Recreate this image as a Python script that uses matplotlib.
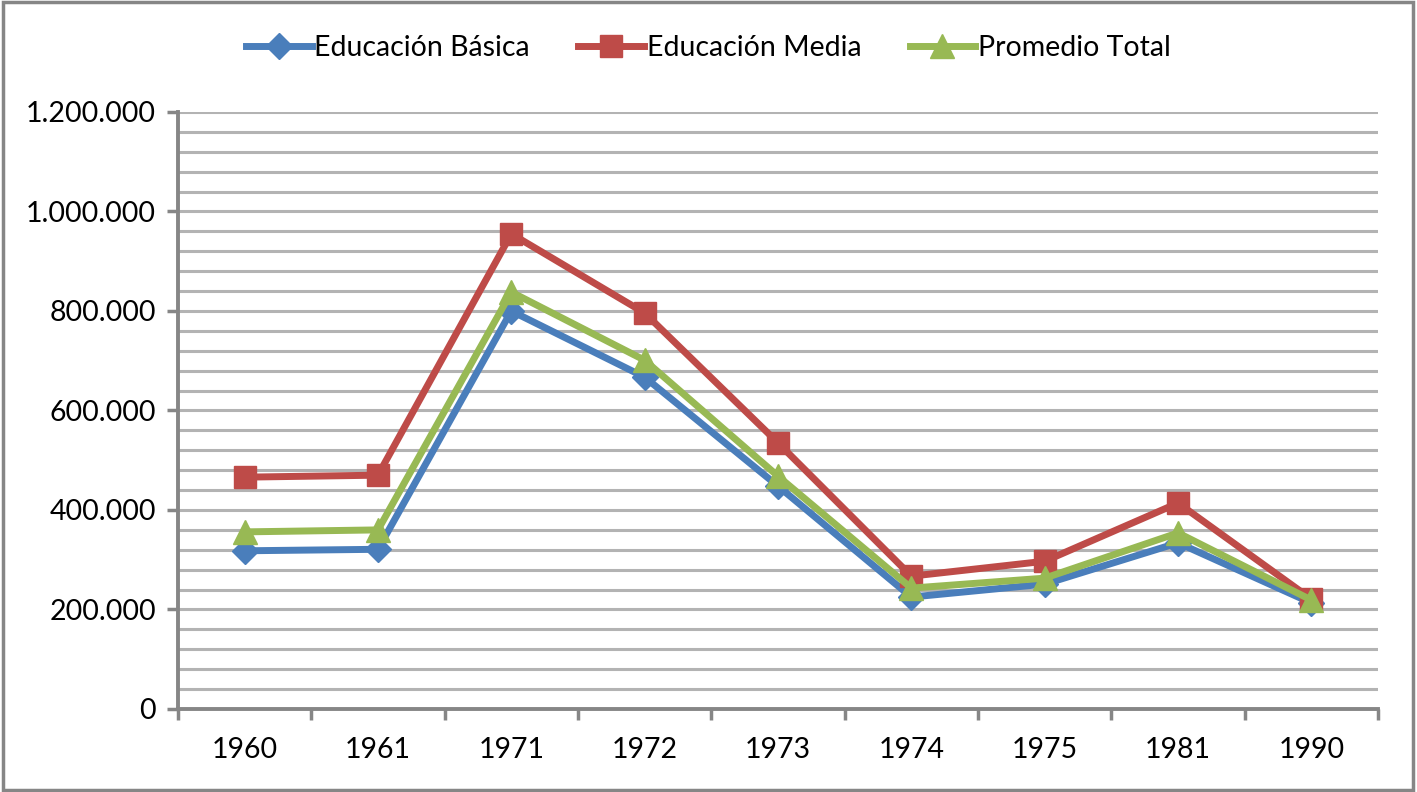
import matplotlib.pyplot as plt
from matplotlib.ticker import FixedLocator, FuncFormatter
from matplotlib.patches import Rectangle

years = ['1960', '1961', '1971', '1972', '1973', '1974', '1975', '1981', '1990']
basica = [318000, 321000, 800000, 667000, 448000, 225000, 251000, 334000, 213000]
media = [466000, 470000, 955000, 796000, 535000, 267000, 297000, 414000, 221000]
promedio = [356000, 360000, 838000, 701000, 468000, 243000, 263000, 354000, 219000]

plt.rcParams['font.family'] = ['Lato', 'DejaVu Sans']

fig = plt.figure(figsize=(14.17, 7.92), dpi=100)
ax = fig.add_axes([0.1256, 0.1048, 0.9725 - 0.1256, 0.8586 - 0.1048])

x = list(range(len(years)))
ax.plot(x, basica, color='#4A7EBB', lw=5, marker='D', ms=13, label='Educación Básica', zorder=3)
ax.plot(x, media, color='#BE4B48', lw=5, marker='s', ms=16, label='Educación Media', zorder=3)
ax.plot(x, promedio, color='#98B954', lw=5, marker='^', ms=17, label='Promedio Total', zorder=4)

ax.set_xlim(-0.5, len(years) - 0.5)
ax.set_ylim(0, 1200000)

# category ticks between groups, labels centred
ax.xaxis.set_major_locator(FixedLocator([i - 0.5 for i in range(len(years) + 1)]))
ax.xaxis.set_minor_locator(FixedLocator(x))
ax.set_xticklabels([])
ax.set_xticklabels(years, minor=True)
ax.tick_params(axis='x', which='major', length=8, width=2.5, color='#868686', direction='out')
ax.tick_params(axis='x', which='minor', length=0, labelsize=20.5, pad=20)

ax.yaxis.set_major_locator(FixedLocator(range(0, 1200001, 200000)))
ax.yaxis.set_minor_locator(FixedLocator(range(0, 1200001, 40000)))
ax.yaxis.set_major_formatter(FuncFormatter(lambda v, p: f'{int(v):,}'.replace(',', '.')))
ax.tick_params(axis='y', which='major', length=8, width=2.5, color='#868686', labelsize=20.5, pad=8)
ax.tick_params(axis='y', which='minor', length=0)

ax.grid(True, axis='y', which='both', color='#B3B3B3', lw=2.2, zorder=0)
ax.set_axisbelow(True)

for s in ['top', 'right']:
    ax.spines[s].set_visible(False)
for s in ['left', 'bottom']:
    ax.spines[s].set_color('#868686')
    ax.spines[s].set_linewidth(2.8)

ax.legend(loc='center', bbox_to_anchor=(0.5 - (0.5 * (0.1256 + 0.9725) - 0.5) / (0.9725 - 0.1256), (1 - 48 / 792 - 0.1048) / (0.8586 - 0.1048)),
          ncol=3, frameon=False, fontsize=20.5, handlelength=2.3, columnspacing=1.7, handletextpad=0.1)

fig.patches.append(Rectangle((0.002, 0.003), 0.995, 0.994, transform=fig.transFigure,
                             fill=False, edgecolor='#868686', lw=2.5))

fig.savefig('out.png', dpi=100)
